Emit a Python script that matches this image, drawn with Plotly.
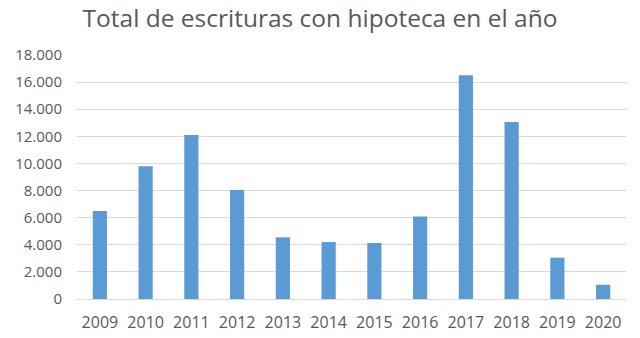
import plotly.graph_objects as go

years = ["2009", "2010", "2011", "2012", "2013", "2014", "2015", "2016", "2017", "2018", "2019", "2020"]
escrituras = [6500, 9800, 12100, 8050, 4550, 4200, 4130, 6080, 16500, 13050, 3050, 1050]
y_ticks = [0, 2000, 4000, 6000, 8000, 10000, 12000, 14000, 16000, 18000]

fig = go.Figure()
fig.add_trace(go.Bar(x=years, y=escrituras, marker=dict(color="#5B9BD5", line=dict(width=0)),
                     hoverinfo="x+y"))

fig.update_layout(
    width=640, height=338,
    margin=dict(l=77, r=14, t=55, b=39),
    paper_bgcolor="white", plot_bgcolor="white",
    separators=",.",
    bargap=0.69,
    showlegend=False,
    title=dict(text="Total de escrituras con hipoteca en el año", x=0.5, xanchor="center",
               y=0.945, yanchor="middle",
               font=dict(family="Open Sans, Liberation Sans, sans-serif", size=24.5, color="#595959")),
    font=dict(family="Open Sans, Liberation Sans, sans-serif", size=15, color="#595959"),
)
fig.update_xaxes(type="category", showgrid=False, showline=True, linecolor="#d9d9d9", linewidth=1,
                 ticks="", tickfont=dict(size=16, color="#595959"), ticklabelstandoff=9,
                 automargin=False)
fig.update_yaxes(range=[0, 18000], tickvals=y_ticks, tickformat=",d", showgrid=True,
                 gridcolor="#d9d9d9", gridwidth=1, zeroline=False, showline=False, ticks="",
                 tickfont=dict(size=15, color="#595959"), ticklabelstandoff=14,
                 automargin=False)

fig.write_html("out.html")
